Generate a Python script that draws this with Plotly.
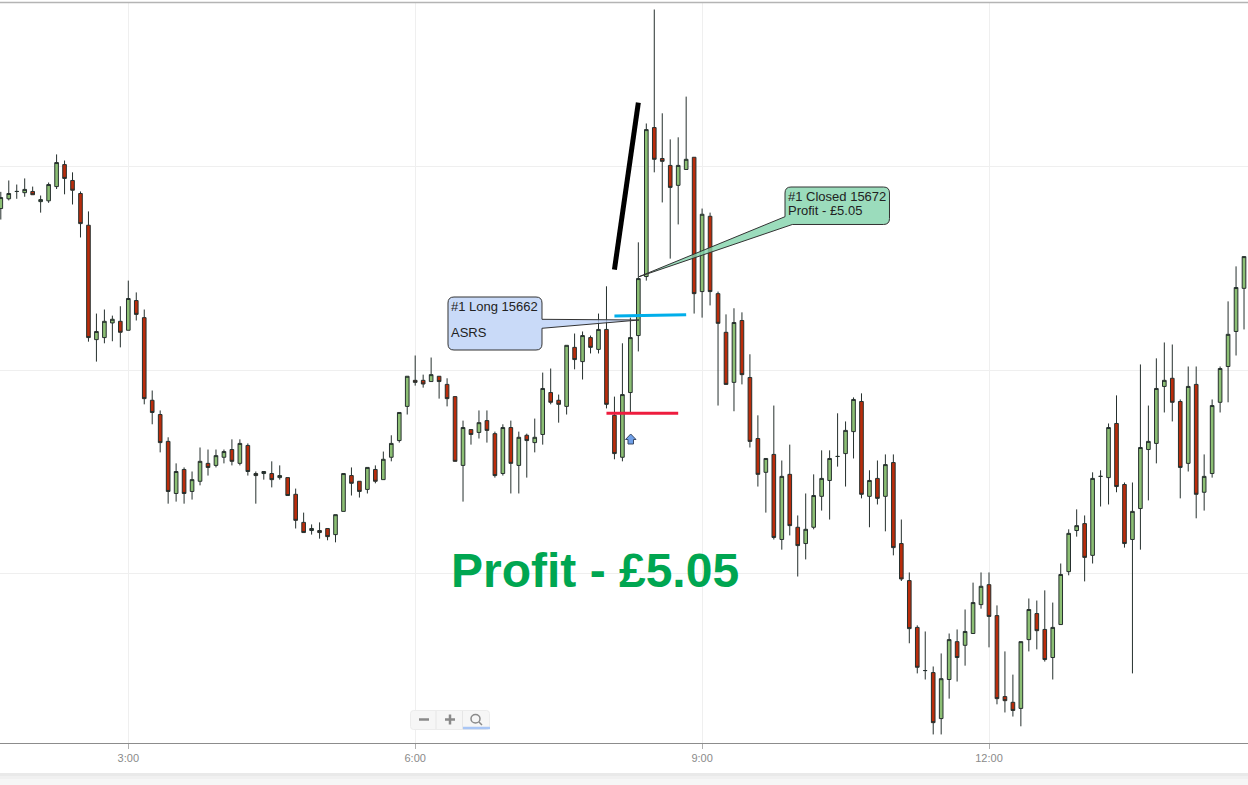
import plotly.graph_objects as go
import pandas as pd

W, H = 1248, 785
TOP, BOTTOM = 3, 743

first_candle = "2021-03-01 01:40"
opens = [15689.7,15692.1,15693.9,15693.6,15693.9,15691.4,15691.6,15695.1,15700.5,15696.6,
15693.4,15685.6,15657.5,15658.0,15661.6,15662.0,15659.8,15667.1,15662.9,15642.6,
15639.1,15632.5,15619.7,15625.6,15620.2,15622.7,15627.1,15626.6,15628.6,15630.5,
15627.1,15631.5,15624.6,15624.6,15624.6,15623.6,15623.6,15619.5,15612.6,15610.6,
15610.6,15611.1,15609.6,15615.3,15624.1,15622.7,15620.7,15625.6,15623.1,15628.6,
15632.7,15641.1,15647.5,15647.5,15647.2,15648.5,15646.5,15643.5,15626.6,15635.4,
15634.7,15637.6,15634.4,15624.6,15635.9,15626.6,15634.0,15632.2,15634.2,15644.5,
15642.6,15641.1,15655.6,15652.1,15658.0,15655.1,15660.0,15638.9,15628.6,15644.5,
15658.5,15673.0,15709.6,15702.0,15700.3,15695.4,15699.3,15702.3,15669.3,15687.8,
15668.8,15659.3,15647.0,15662.2,15648.2,15633.2,15624.9,15629.3,15608.4,15624.4,
15611.4,15607.4,15611.4,15619.0,15622.9,15628.8,15629.5,15634.9,15642.3,15619.0,
15623.4,15619.0,15627.3,15607.4,15598.3,15586.8,15576.2,15575.7,15564.4,15574.0,
15583.3,15582.4,15585.3,15592.4,15597.3,15589.7,15569.8,15568.4,15566.9,15583.8,
15590.2,15586.3,15579.4,15587.5,15600.5,15610.6,15612.3,15604.5,15623.9,15623.6,
15636.9,15621.9,15608.4,15616.0,15630.5,15632.0,15646.0,15648.0,15642.3,15627.1,
15646.5,15620.0,15624.6,15642.1,15650.9,15659.5,15670.1]
highs = [15693.8,15696.6,15695.6,15697.1,15695.1,15692.9,15696.1,15703.0,15701.5,15698.6,
15693.9,15689.0,15663.9,15664.9,15663.4,15665.7,15672.0,15669.1,15664.9,15645.0,
15640.1,15633.5,15627.1,15626.1,15625.1,15631.0,15630.5,15630.5,15630.5,15633.0,
15633.0,15632.0,15625.1,15625.1,15627.6,15626.6,15623.6,15620.9,15615.0,15612.1,
15612.6,15611.1,15614.5,15624.6,15626.1,15622.7,15626.1,15626.6,15630.0,15634.0,
15639.6,15648.5,15653.6,15648.9,15653.1,15648.5,15648.0,15643.5,15637.6,15635.4,
15640.1,15640.1,15634.9,15636.7,15637.6,15634.9,15634.4,15638.1,15649.4,15650.4,
15644.0,15656.1,15659.0,15659.5,15658.5,15663.9,15670.6,15643.5,15656.6,15662.9,
15681.4,15710.6,15738.6,15713.1,15706.7,15707.2,15717.2,15702.3,15689.7,15688.7,
15669.3,15663.7,15665.2,15664.2,15653.9,15638.9,15628.3,15641.3,15627.8,15631.7,
15614.3,15619.7,15624.4,15630.3,15630.3,15639.4,15637.4,15643.3,15644.3,15625.4,
15627.8,15629.3,15629.3,15613.3,15600.3,15587.3,15585.8,15577.2,15580.4,15585.3,
15586.3,15591.2,15597.8,15600.3,15600.3,15592.2,15580.9,15575.2,15583.3,15593.9,
15593.4,15595.9,15592.9,15602.5,15610.9,15615.8,15614.3,15624.9,15625.4,15636.9,
15643.8,15622.4,15622.4,15651.4,15641.3,15652.9,15656.8,15656.3,15642.8,15650.9,
15650.9,15629.3,15642.8,15650.9,15666.9,15675.5,15677.9]
lows = [15687.0,15691.7,15692.1,15692.6,15693.1,15688.7,15691.1,15694.5,15693.2,15690.7,
15682.6,15657.0,15652.1,15656.6,15657.1,15655.6,15659.8,15662.2,15641.6,15636.7,
15629.8,15617.2,15617.7,15617.2,15618.2,15621.7,15624.1,15626.1,15627.1,15626.6,
15626.6,15624.1,15617.2,15623.1,15621.2,15623.1,15619.2,15611.1,15610.1,15609.6,
15608.6,15608.2,15607.7,15615.3,15619.2,15618.7,15619.7,15622.2,15623.1,15627.6,
15632.2,15639.1,15646.2,15645.7,15647.2,15643.0,15641.1,15627.6,15617.7,15631.7,
15633.2,15632.2,15623.6,15624.1,15619.7,15619.7,15623.6,15629.8,15631.7,15641.6,
15637.1,15639.1,15650.2,15647.7,15654.1,15654.1,15640.6,15628.1,15627.6,15639.4,
15654.6,15672.0,15698.6,15691.2,15677.4,15685.8,15699.3,15663.9,15662.9,15665.9,
15641.3,15646.5,15639.9,15646.5,15631.0,15621.4,15615.0,15608.4,15605.9,15609.4,
15599.3,15603.5,15610.9,15615.5,15613.3,15626.3,15621.4,15628.3,15618.5,15611.4,
15617.0,15610.4,15604.5,15598.2,15582.9,15575.5,15574.0,15560.5,15560.5,15569.3,
15573.5,15577.4,15585.3,15591.4,15581.9,15567.9,15565.9,15564.9,15562.5,15580.9,
15581.4,15578.4,15574.0,15587.5,15599.6,15609.1,15598.1,15602.5,15616.5,15617.0,
15620.0,15606.4,15575.5,15605.9,15618.0,15627.1,15639.6,15637.4,15618.5,15625.1,
15613.6,15615.5,15623.6,15639.6,15642.1,15653.6,15660.0]
closes = [15692.4,15693.4,15693.9,15694.4,15693.1,15691.9,15695.6,15701.0,15697.1,15694.2,
15686.0,15658.0,15659.5,15662.0,15662.5,15659.3,15667.6,15663.7,15643.0,15639.6,
15632.2,15620.2,15625.1,15619.7,15623.1,15627.6,15626.1,15629.0,15630.0,15627.6,
15632.0,15625.1,15624.1,15625.1,15623.1,15624.1,15619.2,15613.1,15610.1,15611.1,
15610.1,15609.1,15614.5,15624.6,15622.2,15620.2,15626.1,15622.7,15628.1,15632.0,
15639.6,15648.5,15647.0,15646.6,15648.9,15647.2,15643.0,15627.6,15635.9,15634.2,
15637.1,15635.2,15624.1,15635.9,15627.1,15633.5,15632.7,15633.5,15645.5,15642.1,
15641.6,15656.1,15652.6,15658.5,15655.6,15660.0,15641.6,15629.5,15644.0,15658.0,
15672.5,15709.1,15701.8,15701.3,15694.9,15700.3,15701.8,15668.8,15688.3,15669.3,
15661.5,15646.5,15661.7,15648.9,15632.5,15624.4,15628.3,15608.9,15623.9,15611.8,
15606.9,15610.9,15619.2,15623.4,15628.3,15628.8,15635.2,15642.8,15619.5,15622.9,
15618.5,15626.8,15606.4,15598.7,15586.5,15577.0,15576.2,15563.4,15574.2,15583.8,
15579.4,15585.8,15592.9,15596.9,15589.5,15569.3,15568.8,15566.4,15583.3,15591.2,
15586.0,15578.9,15586.8,15599.8,15609.9,15611.8,15604.0,15623.4,15623.9,15635.9,
15621.4,15607.4,15615.3,15631.0,15632.5,15645.5,15647.5,15642.1,15626.1,15646.0,
15619.5,15623.9,15641.3,15650.4,15658.8,15670.3,15677.9]

times = pd.date_range(first_candle, periods=len(opens), freq="5min")

GRID = "#efefef"
WICK = "#26302e"
GREEN = "#8cbf74"
RED = "#ba2c0b"

fig = go.Figure(go.Candlestick(
    x=times, open=opens, high=highs, low=lows, close=closes,
    whiskerwidth=0,
    increasing=dict(line=dict(color=WICK, width=1), fillcolor=GREEN),
    decreasing=dict(line=dict(color=WICK, width=1), fillcolor=RED),
    showlegend=False,
))


def fx(x):
    return x / W


def fy(y):
    return (BOTTOM - y) / (BOTTOM - TOP)


def P(x, y):
    return f"{fx(x):.5f},{fy(y):.5f}"


def paper_line(x0, y0, x1, y1, color, width):
    return dict(type="line", xref="paper", yref="paper", x0=fx(x0), y0=fy(y0), x1=fx(x1), y1=fy(y1),
                line=dict(color=color, width=width))


def rect(x0, y0, x1, y1, fill):
    return dict(type="rect", xref="paper", yref="paper", x0=fx(x0), y0=fy(y0), x1=fx(x1), y1=fy(y1),
                fillcolor=fill, line=dict(width=0))


def round_box(x0, y0, x1, y1, r):
    return (f"M {P(x0 + r, y0)} L {P(x1 - r, y0)} Q {P(x1, y0)} {P(x1, y0 + r)} "
            f"L {P(x1, y1 - r)} Q {P(x1, y1)} {P(x1 - r, y1)} L {P(x0 + r, y1)} "
            f"Q {P(x0, y1)} {P(x0, y1 - r)} L {P(x0, y0 + r)} Q {P(x0, y0)} {P(x0 + r, y0)} Z")


blue_callout = (f"M {P(454, 297)} L {P(536, 297)} Q {P(542, 297)} {P(542, 303)} L {P(542, 319.3)} "
                f"L {P(639, 320)} L {P(542, 328.3)} L {P(542, 344)} Q {P(542, 350)} {P(536, 350)} "
                f"L {P(454, 350)} Q {P(448, 350)} {P(448, 344)} L {P(448, 303)} Q {P(448, 297)} {P(454, 297)} Z")
green_callout = (f"M {P(791, 187)} L {P(883.5, 187)} Q {P(889.5, 187)} {P(889.5, 193)} L {P(889.5, 218.5)} "
                 f"Q {P(889.5, 224.5)} {P(883.5, 224.5)} L {P(792.3, 224.5)} L {P(639, 276.7)} "
                 f"L {P(785, 216.7)} L {P(785, 193)} Q {P(785, 187)} {P(791, 187)} Z")
up_arrow = "M " + " L ".join(P(x, y) for x, y in [(630.7, 434), (636, 439.5), (633.5, 439.5), (633.5, 444),
                                                  (628, 444), (628, 439.5), (625.5, 439.5)]) + " Z"

shapes = [
    rect(0, 773, W, 776, "#e9e9e9"), rect(0, 776, W, 779, "#f0f0f0"), rect(0, 779, W, 785, "#f6f6f6"),
    paper_line(0, 2.5, W, 2.5, "#b4b4b4", 1.5),
    dict(type="line", xref="x", yref="y", x0="2021-03-01 08:05", y0=15674.7, x1="2021-03-01 08:20", y1=15715.7,
         line=dict(color="#000000", width=5)),
    dict(type="line", xref="x", yref="y", x0="2021-03-01 08:05", y0=15663.3, x1="2021-03-01 08:50", y1=15663.6,
         line=dict(color="#00aeea", width=3)),
    dict(type="line", xref="x", yref="y", x0="2021-03-01 08:00", y0=15639.4, x1="2021-03-01 08:45", y1=15639.4,
         line=dict(color="#ee1c3e", width=3)),
    dict(type="path", xref="paper", yref="paper", path=blue_callout, fillcolor="rgba(188,209,246,0.8)",
         line=dict(color="#333333", width=1)),
    dict(type="path", xref="paper", yref="paper", path=green_callout, fillcolor="rgba(130,211,171,0.8)",
         line=dict(color="#333333", width=1)),
    dict(type="path", xref="paper", yref="paper", path=up_arrow, fillcolor="#6f9fe8",
         line=dict(color="#3a4a66", width=1)),
    # zoom control
    dict(type="path", xref="paper", yref="paper", path=round_box(410.5, 710.5, 489.5, 729.5, 3),
         fillcolor="#f6f6f6", line=dict(color="#ececec", width=1)),
    paper_line(436, 711, 436, 729, "#e6e6e6", 1),
    paper_line(462.5, 711, 462.5, 729, "#e6e6e6", 1),
    paper_line(419, 719.5, 429, 719.5, "#8a8a8a", 2.5),
    paper_line(445, 719.5, 455, 719.5, "#8a8a8a", 2.5),
    paper_line(450, 714.5, 450, 724.5, "#8a8a8a", 2.5),
    dict(type="circle", xref="paper", yref="paper", x0=fx(471), y0=fy(714.5), x1=fx(480), y1=fy(723),
         line=dict(color="#8a8a8a", width=1.5)),
    paper_line(479, 722, 482, 725, "#8a8a8a", 1.5),
    paper_line(463, 728, 490, 728, "#a9c6f5", 2.5),
]

note_font = dict(family="Liberation Sans, Arial", size=13, color="#222222")


def note(text, x, y, font=note_font):
    return dict(text=text, xref="paper", yref="paper", x=fx(x), y=fy(y), xanchor="left", yanchor="middle",
                showarrow=False, font=font, borderpad=0)


annotations = [
    note("#1 Long 15662", 450, 306),
    note("ASRS", 450, 332),
    note("#1 Closed 15672", 787, 196.5),
    note("Profit - £5.05", 787, 210),
    note("Profit - £5.05", 450, 570, dict(family="Liberation Sans, Arial", size=48, color="#00a651", weight="bold")),
]

fig.update_layout(
    width=W, height=H,
    margin=dict(l=0, r=0, t=TOP, b=H - BOTTOM),
    paper_bgcolor="white", plot_bgcolor="white",
    boxgap=0.35,
    showlegend=False,
    shapes=shapes,
    annotations=annotations,
    xaxis=dict(
        type="date",
        range=["2021-03-01 01:39:30", "2021-03-01 14:42:30"],
        rangeslider=dict(visible=False),
        tick0="2021-03-01 00:00", dtick=3 * 3600 * 1000, tickformat="%-H:%M",
        showgrid=True, gridcolor=GRID, gridwidth=1,
        showline=True, linecolor="#8c8c8c", linewidth=1,
        ticks="outside", ticklen=5, tickcolor="#b0b0b0", tickwidth=1,
        tickfont=dict(family="Liberation Sans, Arial", size=11, color="#8a8a8a"),
        zeroline=False,
    ),
    yaxis=dict(
        range=[15558.4, 15740.2],
        tickvals=[15600, 15650, 15700],
        showticklabels=False,
        showgrid=True, gridcolor=GRID, gridwidth=1,
        zeroline=False, showline=False, ticks="",
    ),
)

fig.write_html("out.html", config={"displayModeBar": False},
               post_script="document.body.style.margin='0';document.body.style.overflow='hidden';")
